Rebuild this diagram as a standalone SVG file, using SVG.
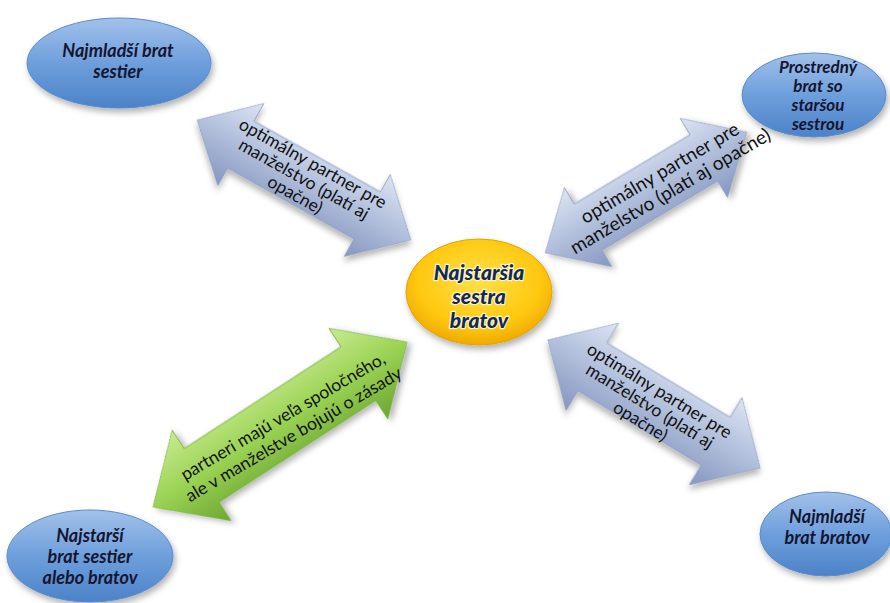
<svg xmlns="http://www.w3.org/2000/svg" width="890" height="603" viewBox="0 0 890 603">
<defs>
<linearGradient id="gGray" x1="0" y1="0" x2="0" y2="1">
<stop offset="0" stop-color="#DDE4F2"/><stop offset="0.45" stop-color="#B5C2DE"/><stop offset="1" stop-color="#8696BE"/>
</linearGradient>
<linearGradient id="gGreen" x1="0" y1="0" x2="0" y2="1">
<stop offset="0" stop-color="#C8EB90"/><stop offset="0.5" stop-color="#9AD253"/><stop offset="1" stop-color="#6DA532"/>
</linearGradient>
<linearGradient id="gBlue" x1="0" y1="0" x2="0" y2="1">
<stop offset="0" stop-color="#A2C1EA"/><stop offset="0.5" stop-color="#6E9FDC"/><stop offset="1" stop-color="#4C82C8"/>
</linearGradient>
<radialGradient id="gGold" cx="0.5" cy="0.4" r="0.6">
<stop offset="0" stop-color="#FFE04A"/><stop offset="0.7" stop-color="#FFC810"/><stop offset="1" stop-color="#EFAA00"/>
</radialGradient>
<filter id="sh" x="-20%" y="-20%" width="140%" height="150%">
<feDropShadow dx="2" dy="4" stdDeviation="3" flood-color="#000" flood-opacity="0.3"/>
</filter>
<style>
.ag{fill:url(#gGray);stroke:#8A99BF;stroke-width:0.8;filter:url(#sh)}
.ar{fill:url(#gGreen);stroke:#74AE38;stroke-width:0.8;filter:url(#sh)}
.lb{font-family:Lato,"Open Sans","Liberation Sans",sans-serif;font-size:17.5px;fill:#111;text-anchor:middle}
.el{fill:url(#gBlue);stroke:#5A8BCB;stroke-width:1;filter:url(#sh)}
.et{font-family:Lato,"Liberation Sans",sans-serif;font-weight:bold;font-style:italic;font-size:18px;fill:#151530;text-anchor:middle}
.ct{font-family:Lato,"Liberation Sans",sans-serif;font-weight:900;font-style:italic;font-size:21px;fill:#14285A;text-anchor:middle;stroke:#FFF6C0;stroke-width:2.5;paint-order:stroke;stroke-linejoin:round}
</style>
</defs>
<rect width="890" height="603" fill="#FFFFFF"/>
<g id="connectors">
<g id="arrow-tl">
<path class="ag" transform="translate(304,180) rotate(29.3)" d="M-122.5,0 L-72.5,-47 L-72.5,-27 L72.5,-27 L72.5,-47 L122.5,0 L72.5,47 L72.5,27 L-72.5,27 L-72.5,47 Z"/>
<g class="lb" transform="translate(304,179) rotate(29.3)">
<text x="0" y="-12">optimálny partner pre</text>
<text x="0" y="6">manželstvo (platí aj</text>
<text x="0" y="24">opačne)</text>
</g>
</g>
<g id="arrow-tr">
<path class="ag" transform="translate(646,192.5) rotate(-30.9)" d="M-117.5,0 L-67.5,-46 L-67.5,-27 L67.5,-27 L67.5,-46 L117.5,0 L67.5,46 L67.5,27 L-67.5,27 L-67.5,46 Z"/>
<g class="lb" style="font-size:19px" transform="translate(665,182) rotate(-30.5)">
<text x="0" y="-4">optimálny partner pre</text>
<text x="0" y="17">manželstvo (platí aj opačne)</text>
</g>
</g>
<g id="arrow-bl">
<path class="ar" transform="translate(280,424.5) rotate(-33)" d="M-151.5,0 L-93.5,-54 L-93.5,-32 L93.5,-32 L93.5,-54 L151.5,0 L93.5,54 L93.5,32 L-93.5,32 L-93.5,54 Z"/>
<g class="lb" transform="translate(288,425) rotate(-30.5)">
<text x="0" y="-4">partneri majú veľa spoločného,</text>
<text x="0" y="17">ale v manželstve bojujú o zásady</text>
</g>
</g>
<g id="arrow-br">
<path class="ag" transform="translate(654,404) rotate(31.1)" d="M-124,0 L-72,-51 L-72,-28 L72,-28 L72,-51 L124,0 L72,51 L72,28 L-72,28 L-72,51 Z"/>
<g class="lb" transform="translate(650,406) rotate(31.5)">
<text x="0" y="-12">optimálny partner pre</text>
<text x="0" y="6">manželstvo (platí aj</text>
<text x="0" y="24">opačne)</text>
</g>
</g>
</g>
<g id="node-center">
<ellipse cx="479" cy="292" rx="73" ry="53" fill="url(#gGold)" stroke="#E3A300" stroke-width="1" filter="url(#sh)"/>
<text class="ct" x="479" y="280">Najstaršia</text>
<text class="ct" x="479" y="304">sestra</text>
<text class="ct" x="479" y="328">bratov</text>
</g>
<g id="node-tl">
<ellipse class="el" cx="119" cy="63" rx="92" ry="45"/>
<text class="et" x="118" y="57">Najmladší brat</text>
<text class="et" x="118" y="78">sestier</text>
</g>
<g id="node-tr">
<ellipse class="el" cx="814" cy="95" rx="72" ry="42"/>
<text class="et" style="font-size:17px" x="818" y="73">Prostredný</text>
<text class="et" style="font-size:17px" x="818" y="92">brat so</text>
<text class="et" style="font-size:17px" x="818" y="111">staršou</text>
<text class="et" style="font-size:17px" x="818" y="130">sestrou</text>
</g>
<g id="node-bl">
<ellipse class="el" cx="90" cy="556" rx="83" ry="46"/>
<text class="et" x="90" y="542">Najstarší</text>
<text class="et" x="90" y="563">brat sestier</text>
<text class="et" x="90" y="584">alebo bratov</text>
</g>
<g id="node-br">
<ellipse class="el" cx="826" cy="534" rx="66" ry="42"/>
<text class="et" x="827" y="523">Najmladší</text>
<text class="et" x="827" y="544">brat bratov</text>
</g>
</svg>
